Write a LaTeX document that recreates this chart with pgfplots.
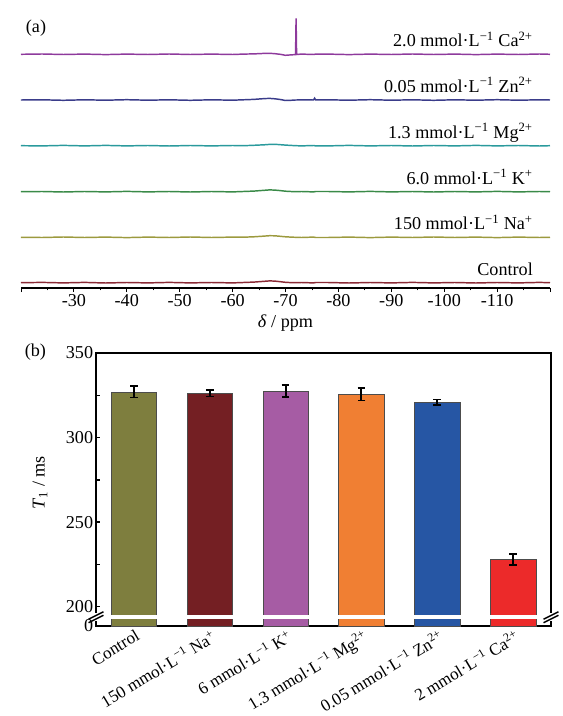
\documentclass[border=0pt]{standalone}
\usepackage{fontspec}
\setmainfont{Liberation Serif}
\usepackage{pgfplots}
\pgfplotsset{compat=1.18}
\usepackage{pgfplotstable}

\definecolor{cCa}{HTML}{8E3A9C}
\definecolor{cZn}{HTML}{3A3C8A}
\definecolor{cMg}{HTML}{2A9A9C}
\definecolor{cK}{HTML}{3A8A48}
\definecolor{cNa}{HTML}{9C9A3E}
\definecolor{cCtrl}{HTML}{8A2A35}
\definecolor{bCtrl}{HTML}{7E7E3E}
\definecolor{bNa}{HTML}{741F23}
\definecolor{bK}{HTML}{A65CA4}
\definecolor{bMg}{HTML}{F07F33}
\definecolor{bZn}{HTML}{2656A4}
\definecolor{bCa}{HTML}{EC2A2A}

\newcommand\ff{\fontsize{13.6}{16}\selectfont}
\newcommand\mL{mmol·L\textsuperscript{−1}}

% 19F spectra, intensity relative to each baseline (a.u.)
\pgfplotstableread{
ppm    ctrl  na    k     mg    zn    ca
-20    0.0   0.0   0.0   0.0   0.0   0.0
-24    0.3  -0.2   0.2  -0.2   0.2   0.3
-28   -0.2   0.3  -0.3   0.3  -0.3  -0.2
-32    0.3  -0.2   0.2  -0.2   0.2   0.2
-36   -0.3   0.2  -0.2   0.3  -0.2  -0.3
-40    0.2  -0.3   0.3  -0.2   0.3   0.2
-44   -0.2   0.2  -0.2   0.2  -0.2  -0.2
-48    0.3  -0.2   0.2  -0.3   0.2   0.3
-52   -0.2   0.3  -0.3   0.2  -0.3  -0.2
-56    0.2  -0.2   0.2  -0.2   0.2   0.2
-60   -0.2   0.2  -0.2   0.2  -0.2  -0.2
-62    0.2   0.1   0.2   0.0   0.2   0.2
-64    0.6   0.5   0.6   0.4   0.6   0.4
-66    1.4   1.2   1.4   0.9   1.4   0.9
-67    1.8   1.6   1.8   1.3   1.6   1.0
-68    1.6   1.5   1.6   1.4   1.2   0.6
-69    1.0   1.0   1.1   1.0   0.5   0.0
-70    0.4   0.5   0.5   0.6  -0.5  -1.0
-71    0.1   0.2   0.2   0.3  -0.3  -0.6
-71.9  0.0   0.0   0.0   0.0   0.0  -0.3
-72.0  0.0   0.0   0.0   0.0   0.0  36.0
-72.1  0.0   0.0   0.0   0.0   0.0  -0.2
-73    0.2  -0.2   0.2  -0.2   0.2   0.2
-75.3 -0.2   0.2  -0.2   0.2   0.0  -0.2
-75.5  0.0   0.0   0.0   0.0   1.8   0.0
-75.7  0.2  -0.2   0.2  -0.2   0.0   0.2
-78    0.2  -0.2   0.2  -0.2   0.2   0.2
-82   -0.3   0.2  -0.2   0.3  -0.2  -0.3
-86    0.2  -0.3   0.3  -0.2   0.3   0.2
-90   -0.2   0.2  -0.2   0.2  -0.2  -0.2
-94    0.3  -0.2   0.2  -0.3   0.2   0.3
-98   -0.2   0.3  -0.3   0.2  -0.3  -0.2
-102   0.2  -0.2   0.2  -0.2   0.2   0.2
-106  -0.3   0.2  -0.2   0.3  -0.2  -0.3
-110   0.2  -0.3   0.3  -0.2   0.3   0.2
-114  -0.2   0.2  -0.2   0.2  -0.2  -0.2
-118   0.3  -0.2   0.2  -0.3   0.2   0.3
-120   0.0   0.0   0.0   0.0   0.0   0.0
}\spectra

\begin{document}
\begin{tikzpicture}
\useasboundingbox (0,0) rectangle (421.5pt,-537pt);
\node[font=\ff, anchor=center] at (27pt,-21pt) {(a)};
\node[font=\ff, anchor=center] at (26.5pt,-264pt) {(b)};

% (a) spectra
\begin{axis}[
  at={(15.75pt,-216pt)}, anchor=south west,
  scale only axis, width=396.75pt, height=204.75pt,
  x dir=reverse, xmin=-120, xmax=-20, ymin=0, ymax=273,
  axis x line*=bottom, axis y line=none,
  axis line style={line width=0.8pt},
  xtick={-110,-100,-90,-80,-70,-60,-50,-40,-30},
  xticklabels={-110,-100,-90,-80,-70,-60,-50,-40,-30},
  extra x ticks={-120,-20}, extra x tick labels={},
  minor xtick={-115,-105,-95,-85,-75,-65,-55,-45,-35,-25},
  tick align=outside, major tick length=3pt, minor tick length=1.8pt,
  tick style={line width=0.6pt, black},
  xticklabel style={inner sep=2pt},
  xlabel={\textit{δ} / ppm},
  xlabel style={at={(axis description cs:0.5,-0.128)}, anchor=center},
  font=\ff, clip=false,
  every axis plot/.append style={no markers, line width=1.1pt},
]
\addplot[cCtrl] table[x=ppm, y expr=\thisrow{ctrl}+5.3] {\spectra};
\addplot[cNa] table[x=ppm, y expr=\thisrow{na}+50.7] {\spectra};
\addplot[cK] table[x=ppm, y expr=\thisrow{k}+96.3] {\spectra};
\addplot[cMg] table[x=ppm, y expr=\thisrow{mg}+142.3] {\spectra};
\addplot[cZn] table[x=ppm, y expr=\thisrow{zn}+188.0] {\spectra};
\addplot[cCa] table[x=ppm, y expr=\thisrow{ca}+233.7] {\spectra};
\begin{scope}[every node/.style={anchor=base east, inner sep=0pt}]
\node at (axis cs:-116.8,241.0) {2.0 \mL{} Ca\textsuperscript{2+}};
\node at (axis cs:-116.8,195.3) {0.05 \mL{} Zn\textsuperscript{2+}};
\node at (axis cs:-116.8,149.6) {1.3 \mL{} Mg\textsuperscript{2+}};
\node at (axis cs:-116.8,103.6) {6.0 \mL{} K\textsuperscript{+}};
\node at (axis cs:-116.8,58.0) {150 \mL{} Na\textsuperscript{+}};
\node at (axis cs:-116.8,12.6) {Control};
\end{scope}
\end{axis}

% (b) T1 bars
\begin{axis}[
  at={(72pt,-469.5pt)}, anchor=south west,
  scale only axis, width=341.25pt, height=204.75pt,
  xmin=-0.5, xmax=5.5, ymin=188.6, ymax=350,
  ybar, bar width=34.2pt, bar shift=0pt,
  xtick={0,1,2,3,4,5},
  xticklabels={Control, 150 \mL{} Na\textsuperscript{+}, 6 \mL{} K\textsuperscript{+},
    1.3 \mL{} Mg\textsuperscript{2+}, 0.05 \mL{} Zn\textsuperscript{2+}, 2 \mL{} Ca\textsuperscript{2+}},
  x tick label style={rotate=31, anchor=north east, inner sep=0.5pt, yshift=-1.5pt,
    font=\fontsize{12.8}{15}\selectfont},
  x tick style={draw=none},
  ytick={200,250,300,350}, yticklabels={200,250,300,350},
  extra y ticks={188.6}, extra y tick labels={0},
  extra y tick style={major tick length=0pt},
  minor ytick={225,275,325},
  ytick pos=left, tick align=inside,
  major tick length=3pt, minor tick length=3pt,
  tick style={line width=1pt, black},
  yticklabel style={inner sep=2pt},
  axis line style={line width=1.4pt},
  ylabel={\textit{T}\textsubscript{1} / ms},
  ylabel style={at={(axis description cs:-0.123,0.524)}, anchor=center},
  font=\ff,
  every axis plot/.append style={draw=black!70, line width=0.4pt},
  error bars/y dir=both, error bars/y explicit,
  error bars/error bar style={line width=1.4pt, black},
  error bars/error mark options={rotate=90, mark size=2.9pt, line width=1.4pt, black},
  after end axis/.code={
    \draw[white, line width=2.6pt] (axis cs:-0.5,193.8) -- (axis cs:5.5,193.8);
    \foreach \xx in {-0.5,5.5}{
      \fill[white] ([xshift=-3pt,yshift=-3.2pt]axis cs:\xx,193.8) rectangle ([xshift=3pt,yshift=3.2pt]axis cs:\xx,193.8);
      \draw[black, line width=1.1pt] ([xshift=-5.6pt,yshift=-4.1pt]axis cs:\xx,193.8) -- ++(11.2pt,5.6pt);
      \draw[black, line width=1.1pt] ([xshift=-5.6pt,yshift=-1.5pt]axis cs:\xx,193.8) -- ++(11.2pt,5.6pt);
    }
  },
]
\addplot[fill=bCtrl] coordinates {(0,327.0) +- (0,3.3)};
\addplot[fill=bNa] coordinates {(1,326.3) +- (0,2.0)};
\addplot[fill=bK] coordinates {(2,327.6) +- (0,3.5)};
\addplot[fill=bMg] coordinates {(3,325.7) +- (0,3.8)};
\addplot[fill=bZn] coordinates {(4,321.0) +- (0,1.5)};
\addplot[fill=bCa] coordinates {(5,227.8) +- (0,3.3)};
\end{axis}
\end{tikzpicture}
\end{document}
